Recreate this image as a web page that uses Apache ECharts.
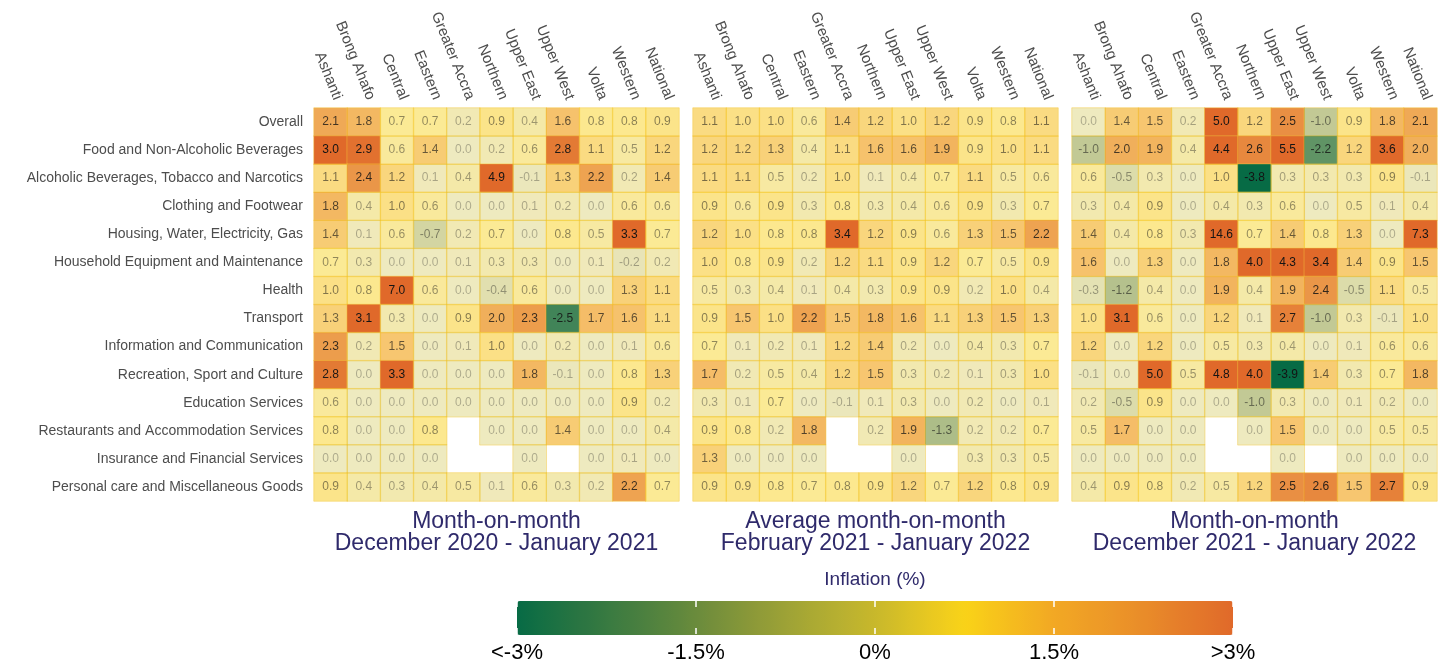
<!DOCTYPE html>
<html>
<head>
<meta charset="utf-8">
<script src="https://cdn.jsdelivr.net/npm/echarts@6/dist/echarts.min.js"></script>
<style>
  html, body { margin: 0; padding: 0; background: #fff; }
  #chart { width: 1443px; height: 664px; }
</style>
</head>
<body>
<div id="chart"></div>
<script>
  const regions = ["Ashanti", "Brong Ahafo", "Central", "Eastern", "Greater Accra", "Northern",
    "Upper East", "Upper West", "Volta", "Western", "National"];
  const categories = [
    "Overall",
    "Food and Non-Alcoholic Beverages",
    "Alcoholic Beverages, Tobacco and Narcotics",
    "Clothing and Footwear",
    "Housing, Water, Electricity, Gas",
    "Household Equipment and Maintenance",
    "Health",
    "Transport",
    "Information and Communication",
    "Recreation, Sport and Culture",
    "Education Services",
    "Restaurants and Accommodation Services",
    "Insurance and Financial Services",
    "Personal care and Miscellaneous Goods",
  ];

  // one row per category, one value per region (null = no data)
  const momDec20Jan21 = [
    [2.1, 1.8, 0.7, 0.7, 0.2, 0.9, 0.4, 1.6, 0.8, 0.8, 0.9],
    [3.0, 2.9, 0.6, 1.4, 0.0, 0.2, 0.6, 2.8, 1.1, 0.5, 1.2],
    [1.1, 2.4, 1.2, 0.1, 0.4, 4.9, -0.1, 1.3, 2.2, 0.2, 1.4],
    [1.8, 0.4, 1.0, 0.6, 0.0, 0.0, 0.1, 0.2, 0.0, 0.6, 0.6],
    [1.4, 0.1, 0.6, -0.7, 0.2, 0.7, 0.0, 0.8, 0.5, 3.3, 0.7],
    [0.7, 0.3, 0.0, 0.0, 0.1, 0.3, 0.3, 0.0, 0.1, -0.2, 0.2],
    [1.0, 0.8, 7.0, 0.6, 0.0, -0.4, 0.6, 0.0, 0.0, 1.3, 1.1],
    [1.3, 3.1, 0.3, 0.0, 0.9, 2.0, 2.3, -2.5, 1.7, 1.6, 1.1],
    [2.3, 0.2, 1.5, 0.0, 0.1, 1.0, 0.0, 0.2, 0.0, 0.1, 0.6],
    [2.8, 0.0, 3.3, 0.0, 0.0, 0.0, 1.8, -0.1, 0.0, 0.8, 1.3],
    [0.6, 0.0, 0.0, 0.0, 0.0, 0.0, 0.0, 0.0, 0.0, 0.9, 0.2],
    [0.8, 0.0, 0.0, 0.8, null, 0.0, 0.0, 1.4, 0.0, 0.0, 0.4],
    [0.0, 0.0, 0.0, 0.0, null, null, 0.0, null, 0.0, 0.1, 0.0],
    [0.9, 0.4, 0.3, 0.4, 0.5, 0.1, 0.6, 0.3, 0.2, 2.2, 0.7],
  ];
  const avgFeb21Jan22 = [
    [1.1, 1.0, 1.0, 0.6, 1.4, 1.2, 1.0, 1.2, 0.9, 0.8, 1.1],
    [1.2, 1.2, 1.3, 0.4, 1.1, 1.6, 1.6, 1.9, 0.9, 1.0, 1.1],
    [1.1, 1.1, 0.5, 0.2, 1.0, 0.1, 0.4, 0.7, 1.1, 0.5, 0.6],
    [0.9, 0.6, 0.9, 0.3, 0.8, 0.3, 0.4, 0.6, 0.9, 0.3, 0.7],
    [1.2, 1.0, 0.8, 0.8, 3.4, 1.2, 0.9, 0.6, 1.3, 1.5, 2.2],
    [1.0, 0.8, 0.9, 0.2, 1.2, 1.1, 0.9, 1.2, 0.7, 0.5, 0.9],
    [0.5, 0.3, 0.4, 0.1, 0.4, 0.3, 0.9, 0.9, 0.2, 1.0, 0.4],
    [0.9, 1.5, 1.0, 2.2, 1.5, 1.8, 1.6, 1.1, 1.3, 1.5, 1.3],
    [0.7, 0.1, 0.2, 0.1, 1.2, 1.4, 0.2, 0.0, 0.4, 0.3, 0.7],
    [1.7, 0.2, 0.5, 0.4, 1.2, 1.5, 0.3, 0.2, 0.1, 0.3, 1.0],
    [0.3, 0.1, 0.7, 0.0, -0.1, 0.1, 0.3, 0.0, 0.2, 0.0, 0.1],
    [0.9, 0.8, 0.2, 1.8, null, 0.2, 1.9, -1.3, 0.2, 0.2, 0.7],
    [1.3, 0.0, 0.0, 0.0, null, null, 0.0, null, 0.3, 0.3, 0.5],
    [0.9, 0.9, 0.8, 0.7, 0.8, 0.9, 1.2, 0.7, 1.2, 0.8, 0.9],
  ];
  const momDec21Jan22 = [
    [0.0, 1.4, 1.5, 0.2, 5.0, 1.2, 2.5, -1.0, 0.9, 1.8, 2.1],
    [-1.0, 2.0, 1.9, 0.4, 4.4, 2.6, 5.5, -2.2, 1.2, 3.6, 2.0],
    [0.6, -0.5, 0.3, 0.0, 1.0, -3.8, 0.3, 0.3, 0.3, 0.9, -0.1],
    [0.3, 0.4, 0.9, 0.0, 0.4, 0.3, 0.6, 0.0, 0.5, 0.1, 0.4],
    [1.4, 0.4, 0.8, 0.3, 14.6, 0.7, 1.4, 0.8, 1.3, 0.0, 7.3],
    [1.6, 0.0, 1.3, 0.0, 1.8, 4.0, 4.3, 3.4, 1.4, 0.9, 1.5],
    [-0.3, -1.2, 0.4, 0.0, 1.9, 0.4, 1.9, 2.4, -0.5, 1.1, 0.5],
    [1.0, 3.1, 0.6, 0.0, 1.2, 0.1, 2.7, -1.0, 0.3, -0.1, 1.0],
    [1.2, 0.0, 1.2, 0.0, 0.5, 0.3, 0.4, 0.0, 0.1, 0.6, 0.6],
    [-0.1, 0.0, 5.0, 0.5, 4.8, 4.0, -3.9, 1.4, 0.3, 0.7, 1.8],
    [0.2, -0.5, 0.9, 0.0, 0.0, -1.0, 0.3, 0.0, 0.1, 0.2, 0.0],
    [0.5, 1.7, 0.0, 0.0, null, 0.0, 1.5, 0.0, 0.0, 0.5, 0.5],
    [0.0, 0.0, 0.0, 0.0, null, null, 0.0, null, 0.0, 0.0, 0.0],
    [0.4, 0.9, 0.8, 0.2, 0.5, 1.2, 2.5, 2.6, 1.5, 2.7, 0.9],
  ];

  const panelTitles = [
    ["Month-on-month", "December 2020 - January 2021"],
    ["Average month-on-month", "February 2021 - January 2022"],
    ["Month-on-month", "December 2021 - January 2022"],
  ];
  const colorbarTicks = [-3, -1.5, 0, 1.5, 3];
  const colorbarLabels = ["<-3%", "-1.5%", "0%", "1.5%", ">3%"];

  const panels = [momDec20Jan21, avgFeb21Jan22, momDec21Jan22];
  const FONT = "'Liberation Sans', Arial, sans-serif";
  const gridLeft = [314, 693, 1072];
  const gridTop = 108;
  const gridWidth = 365;
  const gridHeight = 393;

  // colours every 0.25 from -3 to 3
  const scaleColors = [
    "#076b45", "#187043", "#287442", "#387a41", "#487f40", "#58853e", "#6a8b3c",
    "#7c923a", "#8d9a38", "#9da236", "#acaa33", "#bab130", "#c8b82b",
    "#d9c126", "#ebca20", "#f9d318", "#f7c41c", "#f4b620", "#f2a824",
    "#ef9f26", "#ec9628", "#e98c29", "#e6802a", "#e3752a", "#e0692a",
  ];

  const strength = v => Math.min(Math.abs(v), 3) / 3;

  const toSeriesData = rows => {
    const out = [];
    rows.forEach((row, r) => {
      row.forEach((v, c) => {
        if (v === null) return;
        out.push({
          value: [c, r, v, Math.min(Math.abs(v), 3), Math.max(-3, Math.min(3, v))],
          label: { color: `rgba(20, 20, 20, ${(0.3 + 0.7 * strength(v)).toFixed(2)})` },
        });
      });
    });
    return out;
  };

  const chart = echarts.init(document.getElementById("chart"));

  const option = {
    animation: false,
    textStyle: { fontFamily: FONT },
    grid: [
      ...gridLeft.map(left => ({ left, top: gridTop, width: gridWidth, height: gridHeight })),
      { left: 517, top: 601, width: 716, height: 34 },
    ],
    xAxis: [
      ...gridLeft.map((_, i) => ({
        type: "category",
        gridIndex: i,
        position: "top",
        data: regions,
        axisLine: { show: false },
        axisTick: { show: false },
        splitLine: { show: false },
        axisLabel: {
          interval: 0,
          rotate: 68,
          margin: 6,
          fontSize: 15,
          color: "#4d4d4d",
          fontFamily: FONT,
          verticalAlign: "bottom",
        },
      })),
      {
        type: "value",
        gridIndex: 3,
        min: -3,
        max: 3,
        interval: 1.5,
        z: 10,
        axisLine: { show: false },
        splitLine: { show: false },
        axisTick: { show: true, inside: true, length: 6, lineStyle: { color: "#fff", width: 1.5 } },
        axisLabel: {
          margin: 8,
          fontSize: 22,
          color: "#000",
          fontFamily: FONT,
          formatter: v => colorbarLabels[colorbarTicks.indexOf(v)] ?? "",
        },
      },
      {
        type: "value",
        gridIndex: 3,
        position: "top",
        min: -3,
        max: 3,
        interval: 1.5,
        z: 10,
        axisLine: { show: false },
        splitLine: { show: false },
        axisTick: { show: true, inside: true, length: 6, lineStyle: { color: "#fff", width: 1.5 } },
        axisLabel: { show: false },
      },
    ],
    yAxis: [
      ...gridLeft.map((_, i) => ({
        type: "category",
        gridIndex: i,
        inverse: true,
        data: categories,
        axisLine: { show: false },
        axisTick: { show: false },
        splitLine: { show: false },
        axisLabel: {
          show: i === 0,
          margin: 11,
          fontSize: 14,
          color: "#4d4d4d",
          fontFamily: FONT,
        },
      })),
      { type: "value", gridIndex: 3, show: false, min: 0, max: 1 },
    ],
    visualMap: [
      {
        type: "continuous",
        seriesIndex: [0, 1, 2],
        dimension: 4,
        min: -3,
        max: 3,
        orient: "horizontal",
        left: 517,
        top: 601,
        itemWidth: 34,
        itemHeight: 716,
        padding: 0,
        calculable: false,
        hoverLink: false,
        text: null,
        inRange: { color: scaleColors },
      },
      {
        type: "continuous",
        show: false,
        seriesIndex: [0, 1, 2],
        dimension: 3,
        min: 0,
        max: 3,
        inRange: { colorAlpha: [0.3, 1] },
      },
    ],
    series: panels.map((rows, i) => ({
      type: "heatmap",
      xAxisIndex: i,
      yAxisIndex: i,
      data: toSeriesData(rows),
      itemStyle: { borderColor: "rgba(245, 200, 60, 0.45)", borderWidth: 1 },
      label: {
        show: true,
        fontSize: 12,
        fontFamily: FONT,
        formatter: p => p.value[2].toFixed(1),
      },
      emphasis: { disabled: true },
    })),
    graphic: [
      ...panelTitles.map((t, i) => ({
        type: "text",
        x: gridLeft[i] + gridWidth / 2,
        y: 511,
        style: {
          text: t.join("\n"),
          align: "center",
          verticalAlign: "top",
          lineHeight: 22,
          fill: "#2f2a6b",
          font: `23px ${FONT}`,
        },
      })),
      {
        type: "text",
        x: 875,
        y: 580,
        style: {
          text: "Inflation (%)",
          align: "center",
          verticalAlign: "middle",
          fill: "#2f2a6b",
          font: `19px ${FONT}`,
        },
      },
    ],
  };

  chart.setOption(option);
</script>
</body>
</html>
